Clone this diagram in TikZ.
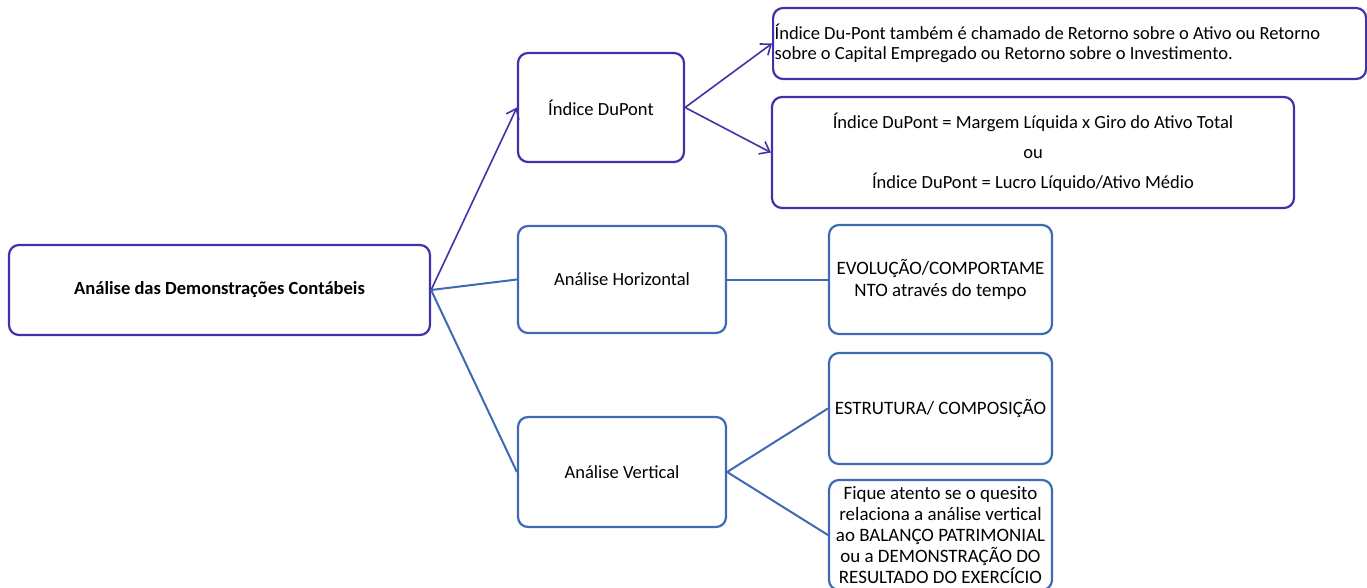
\documentclass[tikz,border=0pt]{standalone}
\usepackage{fontspec}
\setmainfont{Carlito}
\usetikzlibrary{arrows.meta}
\newlength\px
\setlength\px{0.75pt}
\definecolor{purp}{RGB}{64,50,168}
\definecolor{blu}{RGB}{62,106,180}
\begin{document}
\begin{tikzpicture}[x=0.75pt,y=-0.75pt,
  box/.style={draw, line width=2.2\px, rounded corners=10\px, inner sep=2\px,
    align=center, font=\fontsize{13.9}{15.5}\selectfont},
  pbox/.style={box, draw=purp},
  bbox/.style={box, draw=blu},
  parr/.style={draw=purp, line width=1.2pt, -{Straight Barb[length=6.75pt,width=10.5pt,line width=1.2pt]}},
  bline/.style={draw=blu, line width=1.5pt}]
\useasboundingbox (0,0) rectangle (1367,588);
\node[pbox, minimum width=421\px, minimum height=90\px, font=\fontsize{13.9}{15.5}\selectfont\bfseries] (root) at (219.5,290) {Análise das Demonstrações Contábeis};
\node[pbox, minimum width=166\px, minimum height=109\px] (dup) at (601,107.5) {Índice DuPont};
\node[pbox, minimum height=71\px, text width=590\px, inner sep=1.5\px, align=flush left, anchor=west, font=\fontsize{13.9}{15}\selectfont] (b1) at (772,43.5) {Índice Du-Pont também é chamado de Retorno sobre o Ativo ou Retorno\\sobre o Capital Empregado ou Retorno sobre o Investimento.};
\node[pbox, minimum width=522\px, minimum height=111\px, font=\fontsize{13.9}{22.5}\selectfont] (b2) at (1033,152.5) {Índice DuPont = Margem Líquida x Giro do Ativo Total\\ou\\Índice DuPont = Lucro Líquido/Ativo Médio};
\node[bbox, minimum width=208\px, minimum height=107\px] (hor) at (622,279.5) {Análise Horizontal};
\node[bbox, minimum width=223\px, minimum height=109\px, font=\fontsize{14.2}{16.5}\selectfont] (evo) at (940.5,279.5) {EVOLUÇÃO/COMPORTAME\\NTO através do tempo};
\node[bbox, minimum width=223\px, minimum height=111\px, font=\fontsize{14.2}{16.5}\selectfont] (est) at (940.5,408.5) {ESTRUTURA/ COMPOSIÇÃO};
\node[bbox, minimum width=208\px, minimum height=110\px] (ver) at (622,472) {Análise Vertical};
\node[bbox, minimum width=223\px, minimum height=110\px, font=\fontsize{14.2}{15.75}\selectfont] (fiq) at (940.5,535) {Fique atento se o quesito\\relaciona a análise vertical\\ao BALANÇO PATRIMONIAL\\ou a DEMONSTRAÇÃO DO\\RESULTADO DO EXERCÍCIO};
\draw[parr] (root.east) -- (dup.west);
\draw[bline] (root.east) -- (hor.west);
\draw[bline] (root.east) -- (ver.west);
\draw[parr] (dup.east) -- (b1.west);
\draw[parr] (dup.east) -- (b2.west);
\draw[bline] (hor.east) -- (evo.west);
\draw[bline] (ver.east) -- (est.west);
\draw[bline] (ver.east) -- (fiq.west);
\end{tikzpicture}
\end{document}
